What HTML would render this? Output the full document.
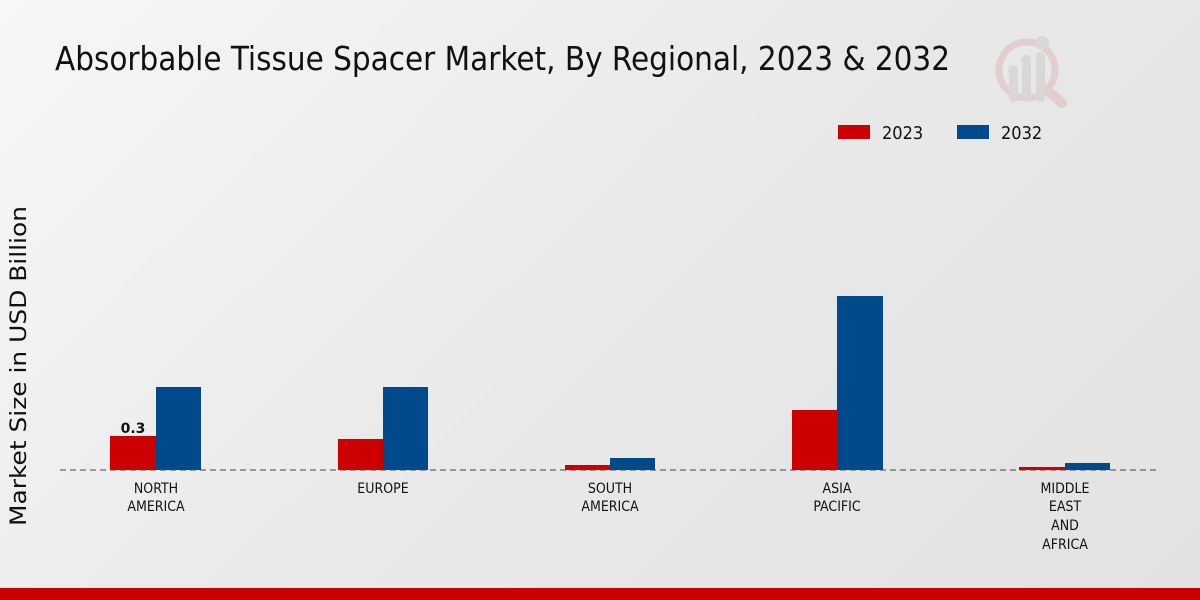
<!DOCTYPE html>
<html><head><meta charset="utf-8"><style>
html,body{margin:0;padding:0}
body{width:1200px;height:600px;position:relative;overflow:hidden;background:linear-gradient(135deg,#f7f7f7 0%,#e9e9e9 50%,#e2e2e2 100%);font-family:"Liberation Sans",sans-serif}
.c{font-family:"DejaVu Sans Condensed","DejaVu Sans",sans-serif;font-stretch:condensed}
</style></head><body>
<svg width="1200" height="600" style="position:absolute;left:0;top:0">
<g opacity="0.35">
<circle cx="1027" cy="70" r="28" fill="none" stroke="#d9a0a0" stroke-width="7"/>
<line x1="1047" y1="90" x2="1062" y2="103" stroke="#d9a0a0" stroke-width="10" stroke-linecap="round"/>
<rect x="1009" y="72" width="9" height="30" rx="4" fill="#bbb"/>
<rect x="1022" y="62" width="9" height="40" rx="4" fill="#bbb"/>
<rect x="1036" y="52" width="9" height="50" rx="4" fill="#bbb"/>
<circle cx="1013" cy="70" r="5" fill="#bbb"/><circle cx="1026" cy="60" r="5" fill="#bbb"/><circle cx="1042" cy="43" r="7" fill="#bbb"/>
</g>
<text class="c" x="55" y="70" font-size="33" fill="#111" textLength="895" lengthAdjust="spacingAndGlyphs">Absorbable Tissue Spacer Market, By Regional, 2023 &amp; 2032</text>
<rect x="838" y="125" width="32" height="14" fill="#cc0000"/>
<text class="c" x="882" y="139" font-size="18" fill="#111">2023</text>
<rect x="957" y="125" width="32" height="14" fill="#004a8c"/>
<text class="c" x="1001" y="139" font-size="18" fill="#111">2032</text>
<text transform="translate(26,366) rotate(-90)" text-anchor="middle" font-family="DejaVu Sans, sans-serif" font-size="22" fill="#111" textLength="320" lengthAdjust="spacingAndGlyphs">Market Size in USD Billion</text>
<g>
<rect x="110" y="436" width="46" height="34" fill="#cc0000"/><rect x="156" y="387" width="45" height="83" fill="#004a8c"/>
<rect x="338" y="439" width="45" height="31" fill="#cc0000"/><rect x="383" y="387" width="45" height="83" fill="#004a8c"/>
<rect x="565" y="465" width="45" height="5" fill="#cc0000"/><rect x="610" y="458" width="45" height="12" fill="#004a8c"/>
<rect x="792" y="410" width="45" height="60" fill="#cc0000"/><rect x="837" y="296" width="46" height="174" fill="#004a8c"/>
<rect x="1019" y="467" width="46" height="3" fill="#cc0000"/><rect x="1065" y="463" width="45" height="7" fill="#004a8c"/>
</g>
<line x1="60" y1="470" x2="1160" y2="470" stroke="#444" stroke-dasharray="6,4" stroke-width="1"/>
<text x="133" y="433" text-anchor="middle" font-family="DejaVu Sans, sans-serif" font-size="14" font-weight="bold" fill="#111">0.3</text>
<g class="c" font-size="14" fill="#111" text-anchor="middle">
<text x="156" y="493">NORTH</text><text x="156" y="511">AMERICA</text>
<text x="383" y="493">EUROPE</text>
<text x="610" y="493">SOUTH</text><text x="610" y="511">AMERICA</text>
<text x="837" y="493">ASIA</text><text x="837" y="511">PACIFIC</text>
<text x="1065" y="493">MIDDLE</text><text x="1065" y="511">EAST</text><text x="1065" y="530">AND</text><text x="1065" y="549">AFRICA</text>
</g>
<rect x="0" y="588" width="1200" height="12" fill="#cc0000"/>
</svg>
</body></html>
